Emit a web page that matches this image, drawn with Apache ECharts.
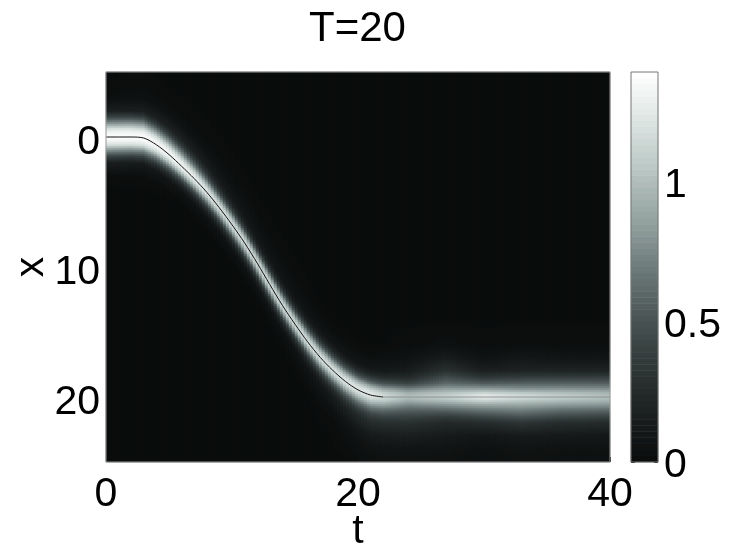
<!DOCTYPE html>
<html>
<head>
<meta charset="utf-8">
<style>
  html, body { margin: 0; padding: 0; background: #fff; }
  #chart { width: 753px; height: 553px; }
</style>
</head>
<body>
<div id="chart"></div>
<script src="https://cdn.jsdelivr.net/npm/echarts@6/dist/echarts.min.js"></script>
<script>
// track of the black line, read every 1 t
const trackT = [0,1,2,3,4,5,6,7,8,9,10,11,12,13,14,15,16,17,18,19,20,21,22]
const trackX = [0,0,0,0.08,0.6,1.35,2.25,3.2,4.25,5.45,6.75,8.15,9.7,11.35,12.95,14.4,15.75,16.95,17.95,18.8,19.45,19.85,20]
const flatT = [22,40]
const flatX = [20,20]

// brightness read across the ridge at several t, at these x offsets from the line
const offsets = [-6,-4,-3,-2,-1.5,-1,-0.6,-0.3,0,0.3,0.6,1,1.5,2,3,4,6]
const col0  = [.01,.015,.03,.16,.42,.82,1.20,1.33,1.38,1.33,1.20,.82,.42,.16,.03,.01,.01]
const col3  = [.01,.02,.05,.17,.43,.84,1.20,1.33,1.38,1.32,1.17,.76,.38,.13,.03,.01,.01]
const col6  = [.01,.02,.07,.20,.40,.74,1.10,1.28,1.32,1.20,.92,.50,.20,.06,.01,.01,.01]
const col9  = [.01,.03,.06,.13,.25,.50,.88,1.12,1.22,1.05,.80,.42,.16,.05,.01,.01,.01]
const col12 = [.01,.02,.05,.09,.17,.42,.82,1.08,1.18,1.05,.78,.40,.14,.05,.01,.01,.01]
const col15 = [.01,.02,.04,.08,.17,.44,.82,1.08,1.18,1.05,.78,.40,.16,.06,.02,.01,.01]
const col18 = [.01,.01,.03,.09,.22,.50,.88,1.12,1.22,1.10,.85,.52,.26,.14,.06,.02,.01]
const col21 = [.01,.01,.03,.10,.26,.55,.95,1.18,1.25,1.15,.95,.66,.42,.28,.14,.07,.02]
const col24 = [.01,.02,.06,.14,.24,.42,.72,.92,1.02,.92,.76,.58,.42,.29,.16,.08,.03]
const col27 = [.01,.04,.14,.30,.46,.62,.85,1.02,1.12,1.00,.82,.60,.38,.24,.13,.07,.03]
const col30 = [.01,.02,.06,.17,.33,.56,.85,1.12,1.30,1.12,.90,.68,.45,.26,.10,.05,.02]
const col33 = [.01,.03,.10,.20,.37,.58,.80,1.05,1.20,1.05,.90,.72,.52,.32,.13,.07,.03]
const col36 = [.01,.03,.08,.20,.38,.58,.80,1.00,1.12,1.00,.85,.65,.45,.27,.12,.06,.03]
const col40 = [.01,.03,.08,.20,.38,.58,.78,.95,1.02,.95,.82,.62,.42,.25,.11,.06,.03]
const colT = [0,3,6,9,12,15,18,21,24,27,30,33,36,40]
const cols = [col0,col3,col6,col9,col12,col15,col18,col21,col24,col27,col30,col33,col36,col40]

const tTicks = [0,20,40]
const xTicks = [0,10,20]
const barTicks = [0,0.5,1]
const barMax = 1.39
const colorStops = ['#0a0c0c','#1c2020','#303838','#4c5656','#6f7c7c','#95a3a1','#b9c6c3','#dde5e3','#ffffff']

// raster of the image: 168 x 195 cells over t 0..40, x -5..25
const nT = 168
const nX = 195
const barLevels = 64

function lookup(keys, v) {
  let i = 0
  while (i < keys.length - 2 && v > keys[i + 1]) i++
  const f = Math.min(1, Math.max(0, (v - keys[i]) / (keys[i + 1] - keys[i])))
  return [i, f]
}

function trackAt(t) {
  if (t >= 22) return 20
  const [i, f] = lookup(trackT, t)
  return trackX[i] + (trackX[i + 1] - trackX[i]) * f
}

function fieldAt(t, x) {
  const d = x - trackAt(t)
  if (d < offsets[0] || d > offsets[offsets.length - 1]) return 0.01
  const [ci, cf] = lookup(colT, t)
  const [oi, of] = lookup(offsets, d)
  const a = cols[ci][oi] + (cols[ci][oi + 1] - cols[ci][oi]) * of
  const b = cols[ci + 1][oi] + (cols[ci + 1][oi + 1] - cols[ci + 1][oi]) * of
  return a + (b - a) * cf
}

const cells = []
for (let i = 0; i < nT; i++) {
  for (let j = 0; j < nX; j++) {
    cells.push([i, j, fieldAt((i + 0.5) * 40 / nT, (j + 0.5) * 30 / nX - 5)])
  }
}
const barCells = []
for (let j = 0; j < barLevels; j++) {
  barCells.push([0, j, (j + 0.5) * barMax / barLevels])
}

const range = n => Array.from({ length: n }, (_, i) => i)
const fontFamily = '"Liberation Sans", Arial, sans-serif'
const labelStyle = { color: '#000', fontSize: 41, fontFamily: fontFamily }
const hiddenAxis = data => ({ type: 'category', data: data, show: false })
const noLine = { show: false, onZero: false }

// outerBoundsMode none: keep the grids where they are, labels may hang out
const mainRect = { left: 106, top: 72, width: 504, height: 390, outerBoundsMode: 'none' }
const barRect = { left: 631, top: 72, width: 27, height: 390, outerBoundsMode: 'none' }

const chart = echarts.init(document.getElementById('chart'))
chart.setOption({
  animation: false,
  title: {
    text: 'T=20',
    left: 304,
    top: 3,
    textStyle: { color: '#000', fontSize: 42, fontWeight: 'normal', fontFamily: fontFamily }
  },
  visualMap: {
    show: false,
    seriesIndex: [0, 1],
    min: 0,
    max: barMax,
    inRange: { color: colorStops }
  },
  grid: [
    mainRect,
    { ...mainRect, show: true, borderColor: '#999', borderWidth: 1, backgroundColor: 'transparent', z: 5 },
    barRect,
    { ...barRect, show: true, borderColor: '#777', borderWidth: 1, backgroundColor: 'transparent', z: 5 }
  ],
  xAxis: [
    { gridIndex: 0, ...hiddenAxis(range(nT)) },
    {
      gridIndex: 1,
      type: 'value',
      min: 0,
      max: 40,
      name: 't',
      nameLocation: 'middle',
      nameGap: 49,
      nameMoveOverlap: false,
      nameTextStyle: labelStyle,
      axisLine: noLine,
      splitLine: { show: false },
      axisTick: { show: true, inside: true, length: 5, lineStyle: { color: '#000' }, customValues: tTicks },
      axisLabel: { ...labelStyle, margin: 12, customValues: tTicks, showMinLabel: true, showMaxLabel: true, hideOverlap: false }
    },
    { gridIndex: 2, ...hiddenAxis([0]) },
    { gridIndex: 3, type: 'value', min: 0, max: 1, show: false }
  ],
  yAxis: [
    { gridIndex: 0, ...hiddenAxis(range(nX)), inverse: true },
    {
      gridIndex: 1,
      type: 'value',
      min: -5,
      max: 25,
      inverse: true,
      name: 'x',
      nameLocation: 'middle',
      nameGap: 54,
      nameMoveOverlap: false,
      nameTextStyle: labelStyle,
      axisLine: noLine,
      splitLine: { show: false },
      axisTick: { show: true, inside: true, length: 5, lineStyle: { color: '#000' }, customValues: xTicks },
      axisLabel: { ...labelStyle, margin: 6, verticalAlign: 'top', lineHeight: 12, customValues: xTicks }
    },
    { gridIndex: 2, ...hiddenAxis(range(barLevels)) },
    {
      gridIndex: 3,
      type: 'value',
      position: 'right',
      min: 0,
      max: barMax,
      axisLine: noLine,
      splitLine: { show: false },
      axisTick: { show: true, inside: true, length: 4, lineStyle: { color: '#222' }, customValues: barTicks },
      axisLabel: { ...labelStyle, margin: 6, verticalAlign: 'top', lineHeight: 8, customValues: barTicks, hideOverlap: false, formatter: v => String(v) }
    },
    {
      gridIndex: 3,
      type: 'value',
      position: 'left',
      min: 0,
      max: barMax,
      axisLine: noLine,
      splitLine: { show: false },
      axisLabel: { show: false },
      axisTick: { show: true, inside: true, length: 4, lineStyle: { color: '#222' }, customValues: barTicks }
    }
  ],
  series: [
    { type: 'heatmap', xAxisIndex: 0, yAxisIndex: 0, data: cells, progressive: 0, silent: true, emphasis: { disabled: true } },
    { type: 'heatmap', xAxisIndex: 2, yAxisIndex: 2, data: barCells, progressive: 0, silent: true, emphasis: { disabled: true } },
    {
      type: 'line',
      xAxisIndex: 1,
      yAxisIndex: 1,
      data: trackT.map((t, i) => [t, trackX[i]]),
      smooth: 0.3,
      symbol: 'none',
      silent: true,
      z: 4,
      lineStyle: { color: '#111', width: 1 }
    },
    {
      type: 'line',
      xAxisIndex: 1,
      yAxisIndex: 1,
      data: flatT.map((t, i) => [t, flatX[i]]),
      symbol: 'none',
      silent: true,
      z: 4,
      lineStyle: { color: '#8a8f8f', width: 1 }
    }
  ]
})
</script>
</body>
</html>
